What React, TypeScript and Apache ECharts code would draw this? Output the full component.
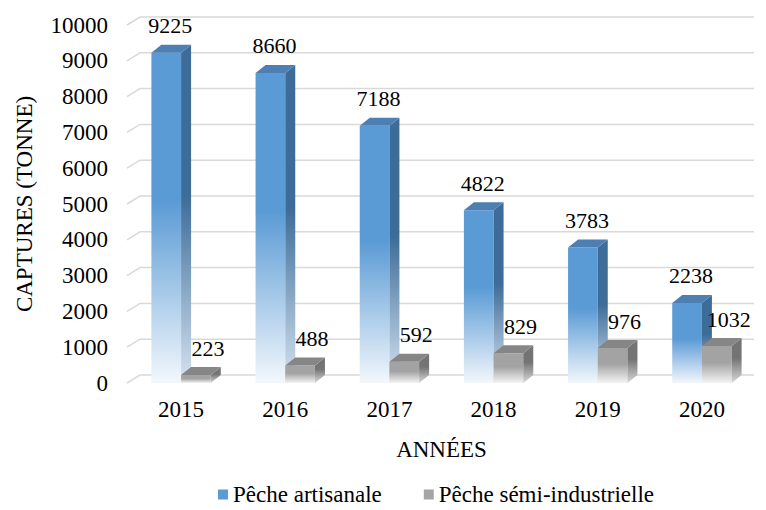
import React, { useEffect, useRef } from "react";
import * as echarts from "echarts";

const years = ["2015", "2016", "2017", "2018", "2019", "2020"];
const artisanal = [9225, 8660, 7188, 4822, 3783, 2238];
const semiIndustrial = [223, 488, 592, 829, 976, 1032];
const yTicks = [0, 1000, 2000, 3000, 4000, 5000, 6000, 7000, 8000, 9000, 10000];

const FONT = "serif";
const FS = 23;
const DX = 10;
const DY = -8;

function grad(stops: [number, string][]) {
  return {
    type: "linear",
    x: 0,
    y: 0,
    x2: 0,
    y2: 1,
    colorStops: stops.map(([offset, color]) => ({ offset, color })),
  };
}

function makeBarRender(
  side: "left" | "right",
  colors: { front: string; frontLight: string; side: string; sideLight: string; top: string },
  labelOffset: number
) {
  return (params: any, api: any) => {
    const idx = api.value(0);
    const val = api.value(1);
    const base = api.coord([idx, 0]);
    const top = api.coord([idx, val]);
    const band = api.size([1, 0])[0];
    const w = band * 0.285;
    const x0 = side === "left" ? base[0] - w : base[0];
    const x1 = x0 + w;
    const yb = base[1];
    const yt = top[1];
    return {
      type: "group",
      children: [
        {
          type: "rect",
          shape: { x: x0, y: yt, width: w, height: yb - yt },
          style: {
            fill: grad([
              [0, colors.front],
              [0.45, colors.front],
              [1, colors.frontLight],
            ]),
          },
        },
        {
          type: "polygon",
          shape: {
            points: [
              [x1, yt],
              [x1 + DX, yt + DY],
              [x1 + DX, yb + DY],
              [x1, yb],
            ],
          },
          style: {
            fill: grad([
              [0, colors.side],
              [0.45, colors.side],
              [1, colors.sideLight],
            ]),
          },
        },
        {
          type: "polygon",
          shape: {
            points: [
              [x0, yt],
              [x0 + DX, yt + DY],
              [x1 + DX, yt + DY],
              [x1, yt],
            ],
          },
          style: { fill: colors.top },
        },
        {
          type: "text",
          style: {
            text: String(val),
            x: (x0 + x1) / 2 + labelOffset,
            y: yt - 27,
            align: "center",
            verticalAlign: "middle",
            fill: "#000",
            fontSize: 22,
            fontFamily: FONT,
          },
        },
      ],
    };
  };
}

export default function App() {
  const ref = useRef<HTMLDivElement>(null);

  useEffect(() => {
    if (!ref.current) return;
    const chart = echarts.init(ref.current, undefined, { renderer: "svg" });

    const gridRender = (params: any, api: any) => {
      const cs = params.coordSys;
      const v = api.value(1);
      const y = api.coord([0, v])[1];
      return {
        type: "polyline",
        shape: {
          points: [
            [cs.x - 2, y],
            [cs.x + 11, y + DY],
            [cs.x + cs.width, y + DY],
          ],
        },
        style: { stroke: "#d9d9d9", lineWidth: 1.5, fill: "none" },
      };
    };

    chart.setOption({
      animation: false,
      backgroundColor: "#ffffff",
      textStyle: { fontFamily: FONT },
      grid: {
        left: 129,
        right: 12,
        top: 25,
        bottom: 127,
        outerBoundsMode: "none",
        containLabel: false,
      },
      xAxis: {
        type: "category",
        data: years,
        boundaryGap: true,
        name: "ANNÉES",
        nameLocation: "middle",
        nameGap: 55,
        nameTextStyle: { color: "#000", fontSize: FS, fontFamily: FONT },
        axisLine: { show: false },
        axisTick: { show: false },
        axisLabel: { color: "#000", fontSize: FS, fontFamily: FONT, margin: 15 },
      },
      yAxis: {
        type: "value",
        min: 0,
        max: 10000,
        interval: 1000,
        name: "CAPTURES (TONNE)",
        nameLocation: "middle",
        nameRotate: 90,
        nameGap: 93,
        nameTextStyle: { color: "#000", fontSize: FS, fontFamily: FONT },
        axisLine: { show: false },
        axisTick: { show: false },
        splitLine: { show: false },
        axisLabel: {
          color: "#000",
          fontSize: FS,
          fontFamily: FONT,
          margin: 21,
          formatter: (v: number) => String(v),
        },
      },
      legend: {
        left: 213,
        top: 478,
        icon: "rect",
        itemWidth: 10,
        itemHeight: 10,
        itemGap: 42,
        textStyle: { color: "#000", fontSize: FS, fontFamily: FONT },
        data: ["Pêche artisanale", "Pêche sémi-industrielle"],
      },
      series: [
        {
          type: "custom",
          name: "grid",
          silent: true,
          z: 0,
          clip: false,
          renderItem: gridRender,
          data: yTicks.map((v) => [0, v]),
          encode: { x: 0, y: 1 },
        },
        {
          type: "custom",
          name: "Pêche artisanale",
          z: 2,
          clip: false,
          itemStyle: { color: "#5b9bd5" },
          renderItem: makeBarRender(
            "left",
            {
              front: "#5b9bd5",
              frontLight: "#f2f7fc",
              side: "#3e6c98",
              sideLight: "#d5e3f1",
              top: "#4d7fb2",
            },
            4
          ),
          data: artisanal.map((v, i) => [i, v]),
          encode: { x: 0, y: 1 },
        },
        {
          type: "custom",
          name: "Pêche sémi-industrielle",
          z: 3,
          clip: false,
          itemStyle: { color: "#a5a5a5" },
          renderItem: makeBarRender(
            "right",
            {
              front: "#a3a3a3",
              frontLight: "#f4f4f4",
              side: "#747474",
              sideLight: "#d8d8d8",
              top: "#868686",
            },
            12
          ),
          data: semiIndustrial.map((v, i) => [i, v]),
          encode: { x: 0, y: 1 },
        },
      ],
    });

    return () => chart.dispose();
  }, []);

  return (
    <div
      ref={ref}
      style={{ position: "absolute", left: 0, top: 0, width: 766, height: 510 }}
    />
  );
}
